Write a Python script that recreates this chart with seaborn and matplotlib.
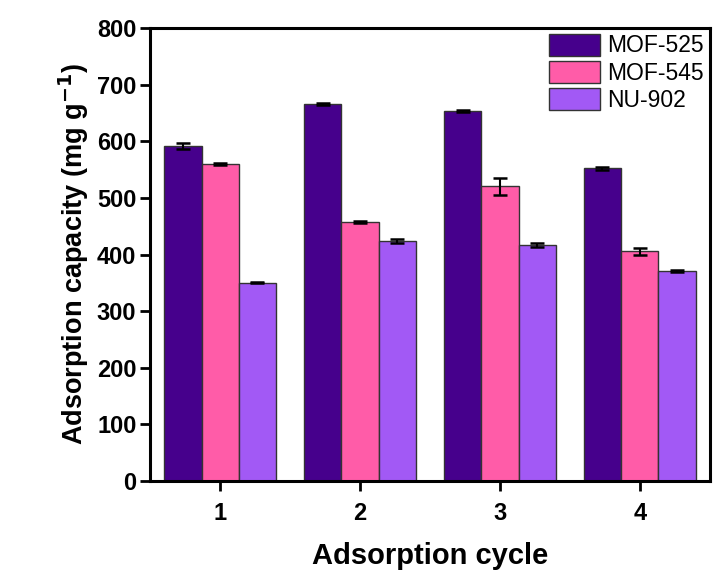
import matplotlib
matplotlib.use("Agg")
import matplotlib.pyplot as plt
import seaborn as sns
import pandas as pd
import numpy as np

cycles = ["1", "2", "3", "4"]
series = ["MOF-525", "MOF-545", "NU-902"]
mof525 = [592, 666, 654, 552]
mof545 = [560, 457, 521, 406]
nu902 = [350, 424, 417, 371]
mof525_err = [5, 2, 2, 2]
mof545_err = [2, 2, 15, 6]
nu902_err = [1, 3, 3, 1]
colors = ["#46008C", "#FF5CA8", "#A259F5"]

sns.set_theme(style="white")
plt.rcParams['font.family'] = ['Liberation Sans', 'DejaVu Sans']
plt.rcParams['text.color'] = 'black'
plt.rcParams['axes.labelcolor'] = 'black'
plt.rcParams['xtick.color'] = 'black'
plt.rcParams['ytick.color'] = 'black'

rows = []
for s, vals, errs in zip(series, [mof525, mof545, nu902], [mof525_err, mof545_err, nu902_err]):
    for c, v, e in zip(cycles, vals, errs):
        rows.append({"cycle": c, "series": s, "value": v, "err": e})
df = pd.DataFrame(rows)

fig = plt.figure(figsize=(7.19, 5.72), dpi=100)
ax = fig.add_axes([0.209, 0.159, 0.778, 0.792])
sns.barplot(data=df, x="cycle", y="value", hue="series", palette=colors,
            order=cycles, hue_order=series, errorbar=None, width=0.8,
            saturation=1, edgecolor="#333333", linewidth=1.0, ax=ax)

for cont, s in zip(ax.containers, series):
    sub = df[df.series == s].set_index("cycle").loc[cycles]
    xs = [p.get_x() + p.get_width() / 2 for p in cont.patches]
    ax.errorbar(xs, sub["value"].values, yerr=sub["err"].values, fmt="none",
                ecolor="black", elinewidth=1.5, capsize=5, capthick=1.8, zorder=5)

ax.set_xlim(-0.5, 3.5)
ax.set_ylim(0, 800)
ax.set_yticks(range(0, 801, 100))
ax.set_xlabel("Adsorption cycle", fontsize=21, fontweight="bold", labelpad=12)
ax.set_ylabel("Adsorption capacity (mg g$^{\\mathbf{-1}}$)", fontsize=19.5, fontweight="bold", labelpad=4)
for lab in ax.get_xticklabels() + ax.get_yticklabels():
    lab.set_fontweight("bold")
ax.tick_params(axis="both", which="major", direction="out", length=7, width=2,
               labelsize=17, left=True, bottom=True, pad=3)
ax.tick_params(axis="x", pad=8)
for sp in ax.spines.values():
    sp.set_linewidth(2.2)
    sp.set_color("black")

leg = ax.legend(loc="upper right", fontsize=16.5, frameon=False,
                handlelength=2.26, handleheight=1.09,
                borderaxespad=0.0, labelspacing=0.15, handletextpad=0.3,
                borderpad=0.25)

fig.savefig("out.png", dpi=100)
